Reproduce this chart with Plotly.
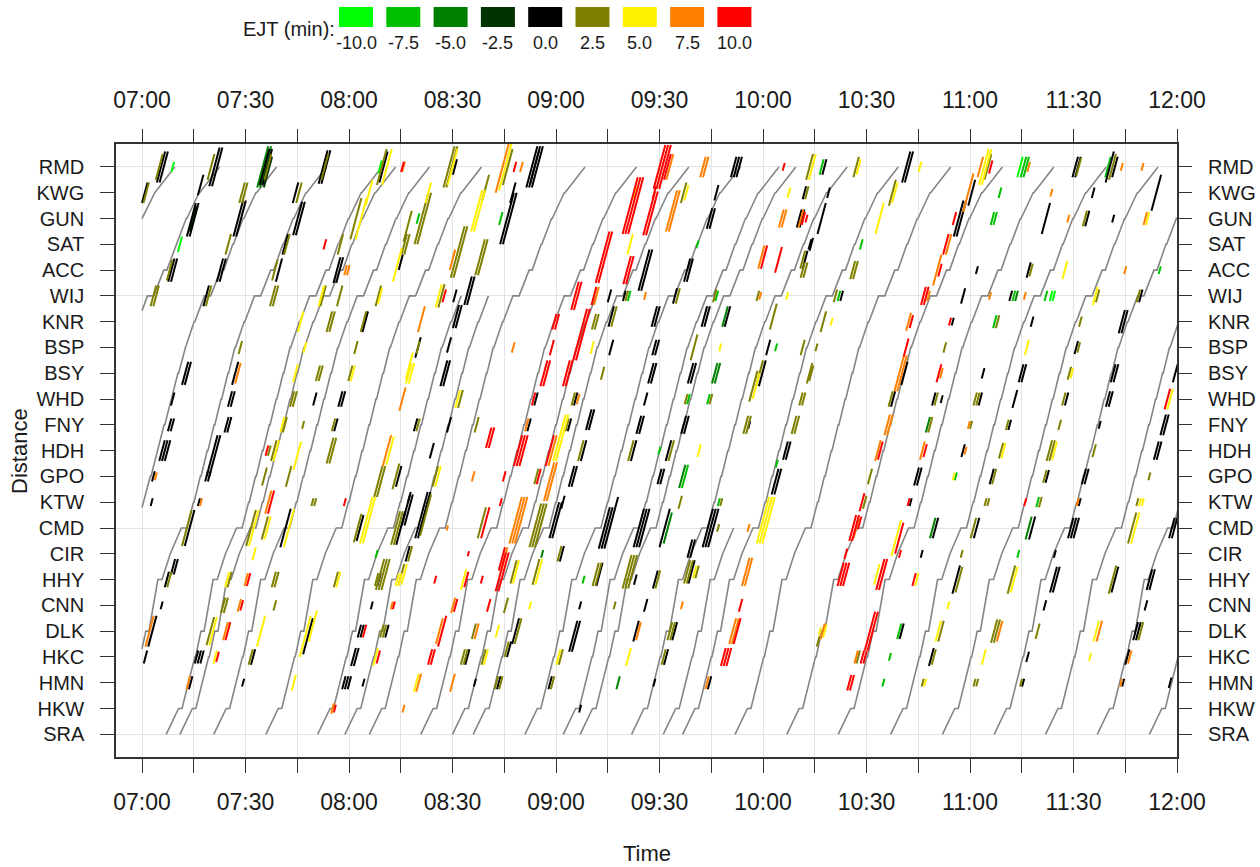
import plotly.graph_objects as go

# ---------------- data ----------------
stations = ["SRA", "HKW", "HMN", "HKC", "DLK", "CNN", "HHY", "CIR", "CMD", "KTW", "GPO", "HDH",
            "FNY", "WHD", "BSY", "BSP", "KNR", "WIJ", "ACC", "SAT", "GUN", "KWG", "RMD"]
grid_stations = ["SRA", "CMD", "WIJ", "RMD"]

time_labels = ["07:00", "07:30", "08:00", "08:30", "09:00", "09:30",
               "10:00", "10:30", "11:00", "11:30", "12:00"]   # every 30 min from 07:00

# typical running profile: minutes after leaving SRA (arrival, departure) at each station
run_arr = [0.0, 3.6, 6.4, 8.3, 10.1, 12.3, 13.6, 17.0, 20.4, 23.9, 25.9, 27.9,
           29.9, 31.9, 33.9, 35.9, 38.6, 41.6, 46.3, 49.8, 52.8, 56.5, 62.5]
run_dep = [0.0, 4.6, 6.6, 8.5, 11.0, 12.5, 14.8, 17.2, 22.0, 24.1, 26.1, 28.1,
           30.1, 32.1, 34.1, 36.1, 38.8, 43.4, 47.2, 50.0, 53.0, 56.7, 62.5]

# SRA departure of each train (minutes after 07:00) and its terminus
train_start = [-53, -40, -23.5, -9, 7.0, 11.0, 20.8, 35.9, 50.9, 58.8, 65.9, 80.8, 90.0, 96.0,
               111.0, 122.1, 127.0, 141.9, 151.1, 156.7, 171.9, 186.9, 201.8, 217.0, 232.0,
               247.0, 261.9, 276.9, 292.0]
train_end = ["RMD", "RMD", "RMD", "RMD", "RMD", "RMD", "RMD", "RMD", "WIJ", "WIJ", "RMD", "RMD", "WIJ", "RMD",
             "RMD", "RMD", "RMD", "RMD", "CMD", "RMD", "RMD", "RMD", "RMD", "RMD", "RMD",
             "RMD", "RMD", "RMD", "RMD"]

# EJT dashes per level: (minutes after 07:00, station position, length in stations, strokes)
ejt_levels = [-10.0, -7.5, -5.0, -2.5, 0.0, 2.5, 5.0, 7.5, 10.0]
ejt_colors = ["#00FF00", "#00C000", "#008000", "#003300", "#000000",
              "#808000", "#FFF000", "#FF8000", "#FF0000"]

ejt_m10 = [(8.9, 22, 0.4, 1), (11, 19, 0.6, 1), (69, 22, 0.5, 1), (254.5, 22, 0.8, 1), (263.5, 17, 0.4, 2)]

ejt_m7_5 = [(80, 20, 0.4, 1), (104, 20, 0.5, 1), (141.2, 17, 0.4, 1), (161, 19, 0.3, 1), (166.6, 17, 0.4, 1),
            (183.8, 15, 0.3, 1), (197, 22, 0.6, 1), (280, 22, 0.8, 1), (255.5, 22, 0.8, 2), (248.7, 21, 0.4, 1),
            (246.5, 20, 0.5, 2), (208.5, 19, 0.4, 1), (295, 18, 0.3, 1), (202, 17, 0.4, 1), (252.7, 17, 0.4, 1),
            (262, 17, 0.4, 1), (247.2, 16, 0.5, 1), (235.9, 10, 0.3, 1), (259.6, 9, 0.4, 1), (254, 7, 0.3, 1),
            (219.5, 4, 0.6, 1), (216.8, 3, 0.3, 1), (214.9, 2, 0.3, 1), (158.4, 13, 0.4, 1), (150, 11, 0.3, 1),
            (157.4, 10, 0.9, 1), (164.2, 13, 0.4, 1), (167.2, 9, 0.3, 1), (184, 10.5, 0.3, 1), (128, 6, 0.3, 1),
            (68, 7, 0.3, 1)]

ejt_m5 = [(35, 22, 1.6, 2), (166, 14, 0.8, 2), (169, 16.2, 0.8, 1), (253.5, 17, 0.4, 1), (227.8, 12, 0.6, 1),
          (229.2, 8, 0.8, 1), (257, 8, 0.9, 1), (116, 7, 0.3, 1), (152.4, 8, 1.2, 1), (156.6, 10, 0.9, 1),
          (138, 2, 0.5, 1)]

ejt_m2_5 = [(36.5, 21.8, 1.2, 1), (113.8, 22, 1.3, 1), (81.8, 8.5, 1.5, 1), (14.8, 20, 1.0, 1)]

ejt_0 = [(5.5, 22, 1.2, 2), (0.8, 21, 0.8, 1), (14.3, 19.95, 1.3, 2), (8.5, 18, 0.9, 2), (21, 22, 1.5, 2),
         (27.9, 20, 1.4, 2), (22.6, 18, 0.9, 2), (18.6, 17, 0.8, 1), (35.5, 22, 1.4, 2), (45.1, 20, 1.3, 2),
         (44.5, 21, 0.8, 1), (52.5, 22, 1.3, 2), (39.7, 18, 0.9, 1), (56.5, 18, 1.0, 2), (64.7, 16, 0.8, 1),
         (17, 21.3, 0.8, 1), (41.5, 19, 0.8, 1), (70, 22, 1.2, 1),
         (90.7, 22, 0.6, 1), (75, 18.3, 0.6, 1), (90.7, 17, 0.5, 1), (80, 15, 0.8, 1), (113, 22, 1.6, 3),
         (107.5, 21, 0.8, 1), (105.8, 20, 2.0, 2), (94.5, 17.2, 1.1, 2), (91, 16.2, 0.9, 2), (89, 15.1, 0.6, 1),
         (87.5, 14, 1.0, 2), (136, 16.2, 0.8, 1), (135.5, 17, 0.5, 1), (145.5, 18, 1.6, 2), (139.8, 17, 0.4, 1),
         (136, 15, 0.6, 1), (148.5, 16.2, 0.8, 2), (148.5, 15, 0.6, 2), (147.5, 14, 0.8, 2), (154.5, 17, 0.6, 1),
         (158, 18, 0.9, 2), (164.5, 20, 0.8, 2), (166.5, 21, 0.6, 1), (171.5, 22, 0.8, 3), (163, 16.2, 0.8, 2),
         (159, 14, 0.8, 2), (169.7, 16.2, 0.8, 1), (181.5, 15, 0.6, 1), (179.8, 14, 1.0, 1), (192.2, 18.4, 0.7, 1),
         (193.6, 19, 0.4, 1), (190.5, 20, 0.7, 2),
         (197.8, 22, 0.6, 1), (221.5, 22, 1.2, 2), (270.5, 22, 0.8, 2), (280.5, 22, 1.2, 1), (282, 22, 0.8, 1),
         (192, 21, 0.5, 1), (199, 21, 0.4, 1), (240.5, 21, 1.0, 1), (275.7, 21, 0.4, 1), (294, 21, 1.4, 1),
         (197, 20, 1.2, 1), (236.7, 20, 1.4, 2), (262, 20, 1.2, 1), (274, 20, 0.6, 1), (281.5, 20, 0.3, 1),
         (194, 19, 0.5, 1), (242, 18, 0.3, 1), (257, 18, 0.6, 1), (202.8, 17, 0.4, 1), (238, 17, 0.6, 1),
         (251.8, 17, 0.4, 1), (289.5, 17, 0.5, 1), (235, 16, 0.3, 1), (258, 16, 0.4, 1), (284, 16, 0.9, 2),
         (270.8, 15, 0.5, 1), (221, 14, 0.9, 1), (243.8, 14, 0.4, 1), (254.8, 14, 0.7, 2), (281.5, 14, 0.7, 2),
         (299.5, 14, 0.7, 1),
         (217.7, 13, 0.6, 1), (229.5, 13, 0.5, 1), (231.8, 13, 0.3, 1), (243, 13, 0.5, 1), (253, 13, 0.7, 1),
         (268, 13, 0.5, 1), (280, 13, 0.6, 2), (251.5, 12, 0.4, 1), (277.6, 12, 0.3, 1), (296, 12, 0.8, 2),
         (238, 11, 0.5, 1), (294, 11, 0.7, 2), (224.5, 10, 0.7, 2), (246.3, 10, 0.6, 1), (262.4, 10, 0.5, 1),
         (273, 10, 0.6, 2), (222.8, 9, 0.3, 1), (271.8, 9, 0.3, 1), (230, 8, 0.8, 1), (241.9, 8, 0.8, 1),
         (258, 8, 0.9, 1), (269.2, 8, 0.8, 3), (298.5, 8, 0.8, 2), (226, 7, 0.3, 1), (264.6, 7, 0.3, 1),
         (220.2, 4, 0.6, 1), (236, 6, 1.1, 1), (228.8, 3, 0.7, 1), (264.2, 6, 1.0, 2), (261.7, 5, 0.4, 1),
         (256.7, 3, 0.4, 1), (255.4, 2, 0.3, 1), (282, 6, 1.0, 1), (292, 6, 0.8, 2), (291, 5, 0.4, 1),
         (288, 4, 0.7, 2), (285.6, 3, 0.6, 1), (284.4, 2, 0.3, 1), (298, 2, 0.4, 1),
         (114.2, 13, 0.5, 1), (112.2, 12, 0.5, 1), (108.3, 4, 1.0, 1), (106.4, 3.3, 0.6, 1), (119.5, 8.3, 1.4, 2),
         (125.7, 13, 0.5, 1), (123.9, 12, 0.5, 1), (129.5, 12.2, 0.8, 2), (128, 11, 0.8, 1), (124.5, 10, 0.8, 2),
         (122, 9, 0.5, 1), (121.7, 7, 0.6, 1), (132.6, 6.2, 0.9, 1), (127, 5, 0.3, 1), (125, 3.8, 1.2, 2),
         (118.3, 2, 0.5, 1), (127, 1, 0.3, 1), (134, 8, 1.6, 3), (142.5, 11, 0.8, 1), (144, 12, 0.7, 2),
         (146, 13, 0.5, 1), (137.6, 9, 0.4, 1), (144, 8, 1.5, 3), (151.5, 8, 1.5, 1), (150, 10, 0.6, 2),
         (152.6, 11, 0.8, 1), (157, 12, 0.7, 2), (143, 6, 0.4, 1), (148.8, 6, 0.7, 1), (146, 5, 0.5, 1),
         (148.5, 2, 0.3, 1), (143.2, 4, 0.8, 1), (151.9, 3, 0.6, 1), (154.4, 4, 0.7, 1), (159.3, 6.3, 0.9, 1),
         (158.8, 7.2, 0.7, 2), (164, 8, 1.5, 3), (164.5, 2, 0.5, 1), (183.5, 9.8, 1.0, 2), (186.5, 11, 0.7, 2),
         (176, 12, 0.3, 1),
         (63.2, 8, 1.0, 1), (75, 8, 1.3, 1), (81, 8.5, 1.8, 2), (77, 7, 0.6, 1), (77.5, 9.2, 0.4, 1),
         (66.6, 5, 0.3, 1), (63, 4, 0.5, 2), (71, 4, 0.5, 1), (61.3, 3, 0.7, 2), (58.5, 2, 0.5, 3),
         (64.2, 2, 0.3, 1), (94.3, 3, 0.6, 1), (96.5, 2, 0.3, 1), (103.4, 2, 0.5, 1),
         (12.5, 14, 0.9, 2), (8.9, 13, 0.5, 1), (8, 12, 0.5, 2), (5.8, 11, 0.8, 3), (3.3, 10, 0.4, 1),
         (2.8, 9, 0.3, 1), (13.8, 8, 1.4, 1), (9, 6.5, 0.6, 2), (27, 14, 0.9, 1), (25.5, 13, 0.6, 2),
         (24.5, 12, 0.6, 2), (20.3, 10.8, 1.6, 2), (18.7, 10, 0.4, 2), (16.5, 9, 0.3, 1), (41.6, 8, 1.5, 1),
         (50.1, 13, 0.5, 1), (56.2, 12, 0.5, 1), (57.5, 13, 0.6, 2), (79.3, 12, 0.5, 1), (74.4, 10, 0.8, 1),
         (76.5, 8.7, 1.2, 2),
         (7.2, 6, 0.6, 1), (5.7, 5, 0.3, 1), (3, 4, 1.2, 1), (1, 3, 0.5, 1), (14.1, 2, 0.5, 1), (15.8, 3, 0.5, 3),
         (29.3, 2, 0.3, 1), (32.2, 3, 0.6, 1), (48.1, 3.8, 1.4, 1), (68.7, 6, 0.5, 1),
         (89, 12, 0.6, 1), (84, 11, 0.6, 1)]

ejt_2_5 = [(5, 22, 1.0, 1), (1.2, 21, 0.8, 1), (8.0, 18, 0.8, 1), (3.3, 17, 0.8, 2), (20, 22, 1.0, 1),
           (29, 21, 0.8, 2), (25, 19, 0.8, 1), (19.3, 17, 0.8, 1), (36.5, 22, 1.0, 1), (45.5, 21, 0.8, 1),
           (53, 22, 1.0, 1), (42, 19, 0.8, 1), (38.5, 18, 0.8, 1), (37.9, 17, 0.8, 2), (69.5, 22, 1.4, 1),
           (62, 20, 1.6, 1), (57.5, 19, 0.8, 1), (52.5, 17, 0.8, 1), (57.3, 17, 0.8, 1), (68.5, 17, 0.8, 1),
           (54.3, 16, 0.8, 2), (64.2, 16, 0.8, 1), (77, 19.7, 1.2, 1),
           (89, 22, 1.6, 2), (81, 20, 2.0, 2), (76, 19, 0.8, 2), (91.5, 18.7, 2.0, 2), (86.8, 17, 0.9, 1),
           (106, 22, 1.4, 1), (99.6, 21.2, 1.0, 1), (98, 18.5, 1.4, 2), (131, 16, 0.6, 2), (136.8, 16.2, 0.8, 1),
           (133.5, 14, 0.5, 1), (140.5, 17, 0.4, 1), (155.3, 17, 0.6, 1), (157, 21, 0.8, 1), (160, 15, 1.0, 1),
           (166, 17, 0.5, 1), (178.5, 17, 0.4, 1), (183, 16.2, 1.0, 1), (179, 14, 1.0, 1), (191.5, 18.4, 0.7, 1),
           (193.5, 22, 1.0, 1), (193.5, 14, 0.8, 1), (191.5, 15, 0.6, 1),
           (207, 22, 0.8, 1), (245.2, 22, 1.0, 1), (271.5, 22, 0.7, 1), (281.3, 22, 1.0, 1), (192.7, 21, 0.5, 1),
           (217.5, 21, 1.0, 1), (273.3, 20, 0.6, 1), (191.5, 18, 0.6, 2), (206, 18, 0.7, 2), (257.7, 18, 0.5, 1),
           (201, 17, 0.5, 1), (277, 17, 0.5, 1), (288.8, 17, 0.5, 1), (197.5, 16, 0.8, 1), (248, 16, 0.5, 1),
           (272, 16, 0.4, 1), (195.5, 15, 0.3, 1), (232.7, 15, 0.4, 1), (271.5, 15, 0.4, 1), (194, 14, 0.6, 1),
           (268.8, 14, 0.5, 1),
           (217, 13, 0.6, 1), (230.2, 13, 0.5, 1), (241.5, 13, 0.5, 2), (267.2, 13, 0.5, 1), (228.5, 12, 0.6, 1),
           (240.3, 12, 0.3, 1), (250.8, 12, 0.4, 1), (266, 12, 0.4, 1), (249, 11, 0.6, 1), (263, 11, 0.8, 2),
           (276, 11, 0.5, 1), (211, 10, 0.6, 1), (247, 10, 0.6, 1), (261.7, 10, 0.5, 1), (292, 10, 0.3, 1),
           (209.5, 9, 0.5, 1), (244.5, 9, 0.3, 2), (260.4, 9, 0.4, 1), (288.5, 9, 0.3, 1), (241, 8, 0.8, 1),
           (287, 8, 1.2, 1), (237.6, 7, 0.3, 1),
           (236.8, 6, 1.0, 1), (231.6, 4, 0.8, 1), (229.5, 3, 0.6, 1), (226.3, 2, 0.3, 1), (252, 6, 1.1, 1),
           (247, 4, 0.9, 2), (241.3, 2, 0.3, 2), (259.6, 4, 0.6, 1), (254.8, 2, 0.3, 1), (281.3, 6, 1.1, 1),
           (289.5, 4, 0.7, 1), (196, 3.6, 0.4, 1),
           (107.7, 6.3, 0.9, 1), (105.5, 5, 0.6, 1), (109, 4, 1.0, 1), (105.7, 3.3, 0.6, 1), (104, 2, 0.5, 1),
           (114.3, 10, 0.6, 1), (114, 8.1, 1.7, 3), (114.2, 6.3, 1.0, 1), (125, 13, 0.5, 1), (123.2, 12, 0.5, 1),
           (127.2, 11, 0.8, 1), (121, 7, 0.6, 1), (131.5, 6.2, 0.9, 2), (121.4, 3, 0.6, 1), (119, 2, 0.5, 1),
           (141.7, 11, 0.8, 1), (153.4, 11, 0.8, 1), (157.7, 13, 0.4, 1), (156, 9, 0.5, 1), (140.6, 6.3, 1.3, 3),
           (137, 5, 0.3, 1), (149.5, 6, 0.7, 1), (151.2, 3, 0.6, 1), (153, 4, 0.7, 2), (158, 6.3, 0.9, 2),
           (160.9, 6.3, 0.5, 1), (164.9, 13, 0.4, 1), (167.9, 9, 0.3, 1), (167, 8, 0.3, 1), (189, 12, 0.7, 2),
           (191, 13, 0.5, 2), (175, 12, 0.7, 2), (177.2, 13.5, 1.2, 1), (207.6, 3, 0.5, 1),
           (62.5, 8, 1.1, 1), (73.5, 8, 1.3, 2), (82.2, 8.5, 1.6, 1), (77.7, 7, 0.6, 1), (69, 6.2, 1.2, 3),
           (75.2, 6.2, 0.8, 1), (69.5, 4, 0.5, 2), (93, 3, 0.6, 2), (96.2, 4, 0.6, 1), (99, 3, 0.6, 1),
           (102.7, 2, 0.5, 1), (98.5, 8.2, 1.2, 1),
           (13, 8, 1.4, 1), (28.5, 15, 0.5, 1), (35.6, 8, 0.9, 1), (31.6, 8, 1.4, 1), (36.9, 11, 0.4, 1),
           (38.2, 11, 0.8, 1), (35.5, 10, 0.7, 1), (41.4, 12, 0.6, 1), (43.5, 13, 0.6, 2), (42.5, 10, 0.8, 1),
           (46.7, 12, 0.3, 1), (49.4, 9, 0.3, 2), (51, 14, 0.6, 2), (54.5, 11, 1.0, 2), (55.5, 12, 0.5, 1),
           (60.4, 14, 0.6, 1), (62, 15, 0.5, 1), (68.5, 9.8, 1.2, 2), (80, 15, 0.5, 1), (80, 12, 0.5, 1),
           (73.6, 10, 1.0, 1),
           (7.9, 6, 0.6, 1), (19.8, 4, 1.1, 1), (23.5, 5, 0.6, 2), (25.4, 6, 0.6, 1), (31.5, 3, 0.6, 1),
           (38.2, 6, 0.6, 2), (38.5, 5, 0.4, 1), (56.2, 6, 0.6, 1), (68, 6, 0.5, 1),
           (92.3, 13, 0.7, 1), (85, 10, 0.8, 1), (97, 12, 0.6, 1)]

ejt_5 = [(71, 22, 1.4, 1), (65.8, 21, 1.0, 1), (63.5, 20, 1.6, 1), (52, 17, 0.8, 1), (46, 16, 0.8, 1),
         (69, 17, 0.6, 1), (74, 18.2, 1.3, 1),
         (90, 22, 1.4, 1), (83, 21, 0.8, 1), (86, 17, 0.9, 1), (77.5, 14.3, 1.0, 1), (105.3, 22, 1.8, 1),
         (97, 20.3, 1.6, 2), (130.5, 15, 0.5, 1), (143, 21, 0.5, 1), (141.5, 19, 0.8, 1), (157.8, 21, 0.6, 1),
         (167.6, 15, 0.3, 1), (187, 17, 0.3, 1), (187.5, 21, 0.4, 1), (194.3, 22, 1.0, 1),
         (207.7, 22, 0.6, 1), (225.5, 22, 0.4, 1), (244, 22, 1.4, 2), (218.2, 21, 0.8, 1), (213.8, 20, 1.2, 1),
         (291.5, 20, 0.5, 1), (267.5, 18, 0.7, 1), (276.3, 17, 0.7, 1), (199.9, 16, 0.3, 1), (256.5, 15, 0.6, 1),
         (269.5, 14, 0.4, 1),
         (298, 13, 0.8, 1), (249.7, 11, 0.6, 1), (264.5, 11, 0.7, 1), (235.3, 10, 0.3, 1), (289.3, 9, 0.3, 2),
         (218.6, 7.6, 1.4, 1), (287.9, 8, 1.2, 1),
         (213, 6.2, 0.8, 1), (224.6, 6, 0.5, 1), (233.7, 5, 0.3, 1), (230.8, 4, 0.8, 1), (227, 2, 0.3, 1),
         (252.8, 6, 1.0, 1), (244, 3, 0.6, 1), (276.6, 4, 0.8, 1), (274.8, 3, 0.3, 1), (197.9, 4, 0.5, 1),
         (108.4, 6.3, 0.9, 1), (121, 11.5, 1.8, 2), (115, 6.3, 1.0, 1), (112.5, 5, 0.3, 1), (120.7, 3, 0.6, 1),
         (141, 3, 0.7, 1), (160.2, 6.3, 0.5, 1), (161.5, 11, 0.5, 1), (180, 8.3, 1.8, 3), (178, 13.5, 1.0, 1),
         (196.5, 4, 0.3, 1),
         (65, 8.3, 1.8, 2), (76, 6.2, 0.8, 1), (67.7, 3, 0.7, 1), (93.2, 6, 0.8, 1), (99.7, 3, 0.6, 1),
         (103, 4, 0.5, 1), (79.5, 2, 0.7, 1),
         (36.4, 8, 0.9, 1), (32.4, 8, 1.4, 1), (32.5, 7, 0.5, 1), (38.9, 11, 0.8, 1), (40.7, 12, 0.6, 1),
         (44.5, 14, 0.7, 1), (42.6, 8, 1.5, 1), (45, 10.8, 1.1, 1), (47.2, 15, 0.4, 1), (61.1, 14, 0.6, 1),
         (71.9, 11, 1.1, 1), (77.3, 14, 0.8, 2),
         (20.6, 4, 1.1, 1), (24.7, 6, 0.6, 1), (21.2, 3, 0.5, 1), (34.5, 4, 1.2, 1), (44, 2, 0.6, 1),
         (47.3, 3.8, 1.6, 1), (49.5, 4.2, 1.2, 1), (56.9, 6, 0.6, 1), (74, 6, 0.5, 2),
         (91.5, 13, 0.7, 1), (85.8, 10, 0.8, 1)]

ejt_7_5 = [(59, 18, 0.4, 2),
           (75.8, 22, 0.4, 1), (90, 18.4, 0.8, 1), (81, 16.1, 1.0, 1), (104.5, 22, 2.0, 1), (110, 22, 0.4, 1),
           (107.6, 15, 0.4, 1), (131.7, 17, 0.7, 1), (153, 22, 1.0, 1), (145.8, 17, 0.3, 1), (162.6, 22, 0.8, 2),
           (153.5, 20.3, 1.6, 2), (179.2, 17, 0.3, 1), (179.5, 18.5, 0.9, 1), (185.3, 20, 0.7, 2),
           (243, 22, 0.8, 1), (257, 22, 0.4, 1), (284, 22, 0.3, 1), (290, 22, 0.3, 1), (239.5, 21, 1.5, 1),
           (263.6, 21, 0.3, 1), (191, 20, 0.7, 1), (268.5, 20, 0.3, 1), (290.8, 20, 0.5, 1), (233.8, 19, 0.8, 1),
           (230.5, 18, 1.2, 1), (285, 18, 0.3, 1), (228, 17, 0.4, 1), (245.8, 17, 0.3, 1), (255.9, 17, 0.3, 1),
           (222.2, 16, 0.7, 1), (219.5, 14, 1.4, 2), (231.7, 14, 0.4, 1),
           (216, 12, 0.8, 2), (239.7, 12, 0.3, 1), (213.3, 11, 0.8, 1), (226.2, 11, 0.7, 1), (238.7, 11, 0.3, 1),
           (271.2, 9, 0.3, 1),
           (248.6, 4, 0.8, 1), (277.5, 4, 0.8, 1), (286.3, 3, 0.5, 1), (283.8, 2, 0.3, 1), (197.3, 4, 0.6, 1),
           (111.5, 12, 0.5, 1), (108.3, 8.3, 1.8, 3), (105, 6.8, 0.9, 1), (119, 11, 1.2, 1), (118, 9.8, 1.5, 2),
           (126.4, 13, 0.4, 1), (143.9, 4, 0.7, 1), (156.5, 5, 0.3, 1), (163.8, 2, 0.5, 1), (171.2, 4, 1.0, 2),
           (175, 6.3, 1.1, 2), (175.8, 8, 0.3, 1), (207, 8, 0.8, 1), (207, 3, 0.5, 1),
           (72.4, 5, 0.3, 1), (75.8, 1, 0.3, 1), (80.2, 2, 0.7, 1), (88.5, 8, 0.2, 1), (90.2, 5, 0.6, 1),
           (86.2, 4, 1.0, 1), (90, 2, 0.7, 1), (97, 4, 0.6, 1),
           (4, 10, 0.3, 1), (27.8, 14, 0.8, 1), (17.1, 9, 0.3, 1), (36.6, 9, 0.9, 1), (71, 11, 1.2, 1),
           (75.5, 13, 0.9, 1),
           (2.2, 4, 1.2, 1), (13.4, 2, 0.5, 1), (28.2, 5, 0.5, 1), (24.2, 4, 0.7, 1), (30.2, 6, 0.5, 1),
           (55.2, 1, 0.4, 1), (96, 10, 0.4, 1)]

ejt_10 = [(53, 19, 0.4, 1), (75.5, 22, 0.4, 1),
          (87.6, 17, 0.5, 1), (108.1, 22, 0.4, 1), (116.5, 14, 1.0, 2), (119.5, 16, 0.6, 2), (118.8, 15, 0.6, 1),
          (125.5, 17, 1.1, 2), (127, 15.5, 2.0, 2), (123, 14, 1.0, 2), (131, 17, 0.7, 1), (133.5, 18.5, 2.0, 2),
          (141.5, 20.5, 2.2, 3), (147, 20.2, 1.7, 2), (150, 22, 1.7, 3), (152.3, 22, 1.0, 1), (140.6, 18, 1.1, 2),
          (148.5, 21, 0.5, 1), (180.3, 18.5, 0.9, 1), (184.5, 18.4, 1.0, 1), (192.6, 20, 0.3, 1), (186, 22, 0.3, 1),
          (246, 22, 0.5, 1), (191.7, 20, 0.5, 1), (235.5, 20, 0.5, 1), (233, 19, 0.8, 1), (231.3, 18, 0.5, 1),
          (226.5, 17, 0.7, 2), (223, 16, 0.5, 1), (234.2, 16, 0.3, 1), (221.5, 15, 0.7, 1), (231, 14, 0.7, 1),
          (297.2, 13, 0.8, 1), (214, 11, 0.7, 1), (227, 11, 0.5, 1), (208.7, 9, 0.7, 1), (222.2, 9, 0.3, 1),
          (256, 9, 0.3, 1), (208, 8.2, 0.5, 1), (219.5, 7.6, 1.2, 1),
          (214, 6.2, 1.2, 2), (211, 4, 1.5, 2), (208.8, 3, 0.5, 2), (219.7, 7, 0.3, 1), (223.8, 6, 0.5, 1),
          (113.5, 13, 0.5, 1), (109, 11, 1.2, 3), (105, 10, 0.4, 1), (104, 9, 0.3, 1), (104.3, 6.8, 0.9, 1),
          (118.2, 11, 1.2, 1), (115, 10, 0.6, 1), (168.5, 3, 0.7, 3), (172.5, 4, 1.0, 1), (173.5, 5, 0.5, 1),
          (206, 8, 1.0, 2), (204, 7, 0.4, 1), (202.5, 6.2, 0.9, 3), (205, 2, 0.6, 2),
          (58.8, 9, 0.3, 1), (64.5, 4, 0.5, 1), (73, 5, 0.3, 1), (68.5, 3, 0.5, 1), (85, 6, 0.3, 1),
          (90.9, 5, 0.5, 1), (94, 6, 0.6, 1), (87, 4, 1.2, 1), (83.5, 3, 0.6, 2), (98.5, 6, 0.3, 1),
          (100.5, 5, 0.5, 1), (99.5, 8.2, 1.2, 1), (94.6, 7, 0.2, 1), (104, 6.3, 1.5, 2),
          (37.4, 9, 0.9, 1), (36.2, 11, 0.4, 1),
          (28.9, 5, 0.4, 1), (24.9, 4, 0.7, 1), (21.9, 3, 0.4, 1), (30.9, 6, 0.5, 1), (55.9, 1, 0.3, 1),
          (100.5, 11.5, 0.8, 2)]

ejt_sets = [ejt_m10, ejt_m7_5, ejt_m5, ejt_m2_5, ejt_0, ejt_2_5, ejt_5, ejt_7_5, ejt_10]

# ---------------- styling ----------------
FONT = "Liberation Sans, Arial, Helvetica, sans-serif"
TXT = "#1a1a1a"
AX = "#333333"
GRID = "#e3e3e3"
T_MIN, T_MAX = -7.54, 300.0
S_MIN, S_MAX = -0.88, 22.89
DASH_SLOPE = 2.0     # minutes per station along a dash
STROKE_GAP = 0.8     # minutes between parallel strokes

fig = go.Figure()

# grey train paths
gx, gy = [], []
for start, end in zip(train_start, train_end):
    last = stations.index(end)
    pts = []
    for i in range(last + 1):
        pts.append((start + run_arr[i], i))
        if run_dep[i] != run_arr[i] and i < last:
            pts.append((start + run_dep[i], i))
    # observations start at 07:00
    clipped = []
    for j, (t, s) in enumerate(pts):
        if t >= 0:
            if j > 0 and pts[j - 1][0] < 0 and not clipped:
                t0, s0 = pts[j - 1]
                clipped.append((0.0, s0 + (s - s0) * (0 - t0) / (t - t0)))
            clipped.append((t, s))
    for t, s in clipped:
        gx.append(t)
        gy.append(s)
    gx.append(None)
    gy.append(None)

fig.add_trace(go.Scatter(x=gx, y=gy, mode="lines", line=dict(color="#858585", width=1.6),
                         hoverinfo="skip", showlegend=False))

# EJT dashes
for level, color, rows in zip(ejt_levels, ejt_colors, ejt_sets):
    xs, ys = [], []
    for t, s, ln, k in rows:
        for j in range(k):
            tc = t + j * STROKE_GAP
            xs += [tc - ln / 2 * DASH_SLOPE, tc + ln / 2 * DASH_SLOPE, None]
            ys += [s - ln / 2, s + ln / 2, None]
    fig.add_trace(go.Scatter(x=xs, y=ys, mode="lines", line=dict(color=color, width=2.0),
                             name=f"{level:.1f}", hoverinfo="skip", showlegend=False))

# dummy trace for the mirrored (top / right) labelled axes
fig.add_trace(go.Scatter(x=[None], y=[None], xaxis="x2", yaxis="y2", showlegend=False, hoverinfo="skip"))

tick_vals = [15 * i for i in range(2 * len(time_labels) - 1)]
tick_text = [time_labels[i // 2] if i % 2 == 0 else "" for i in range(len(tick_vals))]
st_vals = list(range(len(stations)))
grid_vals = [stations.index(s) for s in grid_stations]

xcommon = dict(range=[T_MIN, T_MAX], tickmode="array", tickvals=tick_vals, ticktext=tick_text,
               ticks="outside", ticklen=14, tickwidth=1.4, tickcolor=AX, automargin=False,
               tickfont=dict(family=FONT, size=23, color=TXT), zeroline=False, fixedrange=True)
ycommon = dict(range=[S_MIN, S_MAX], tickmode="array", tickvals=st_vals, ticktext=stations,
               ticks="outside", ticklen=14, tickwidth=1.4, tickcolor=AX, automargin=False,
               tickfont=dict(family=FONT, size=20, color=TXT), zeroline=False, fixedrange=True)

fig.update_layout(
    width=1260, height=867, autosize=False,
    margin=dict(l=116, r=83, t=144, b=110, autoexpand=False),
    paper_bgcolor="white", plot_bgcolor="white",
    showlegend=False,
    xaxis=dict(**xcommon, showgrid=True, gridcolor=GRID, gridwidth=1,
               showline=True, linecolor=AX, linewidth=1.5, mirror=True, ticklabelstandoff=10),
    xaxis2=dict(**xcommon, overlaying="x", side="top", anchor="y", matches="x",
                showgrid=False, showline=False, ticklabelstandoff=12),
    yaxis=dict(**ycommon, showgrid=False, showline=True, linecolor=AX, linewidth=1.5, mirror=True,
               ticklabelstandoff=12,
               minor=dict(tickmode="array", tickvals=grid_vals, showgrid=True, gridcolor=GRID,
                          gridwidth=1, ticks="")),
    yaxis2=dict(**ycommon, overlaying="y", side="right", anchor="x", matches="y",
                showgrid=False, showline=False, ticklabelstandoff=12),
)

# axis titles
fig.add_annotation(text="Time", xref="paper", yref="paper", x=0.5, y=-0.157, showarrow=False,
                   xanchor="center", yanchor="middle", font=dict(family=FONT, size=22, color=TXT))
fig.add_annotation(text="Distance", xref="paper", yref="paper", x=-0.091, y=0.5, showarrow=False,
                   textangle=-90, xanchor="center", yanchor="middle",
                   font=dict(family=FONT, size=22, color=TXT))

# colour key at the top
PW, PH, PL, PB = 1061.0, 613.0, 116.0, 757.0
def px(xp):
    return (xp - PL) / PW
def py(yp):
    return (PB - yp) / PH

fig.add_annotation(text="EJT (min):", xref="paper", yref="paper", x=px(337), y=py(29), showarrow=False,
                   xanchor="right", yanchor="middle", font=dict(family=FONT, size=20, color=TXT))
for i, (level, color) in enumerate(zip(ejt_levels, ejt_colors)):
    x0 = 339 + 47.3 * i
    fig.add_shape(type="rect", xref="paper", yref="paper", x0=px(x0), x1=px(x0 + 34),
                  y0=py(27), y1=py(7), fillcolor=color, line=dict(width=0))
    fig.add_annotation(text=f"{level:.1f}", xref="paper", yref="paper", x=px(x0 + 17), y=py(43),
                       showarrow=False, xanchor="center", yanchor="middle",
                       font=dict(family=FONT, size=18, color=TXT))

fig.write_html("out.html", config={"displayModeBar": False},
               post_script="document.body.style.margin='0px';")
